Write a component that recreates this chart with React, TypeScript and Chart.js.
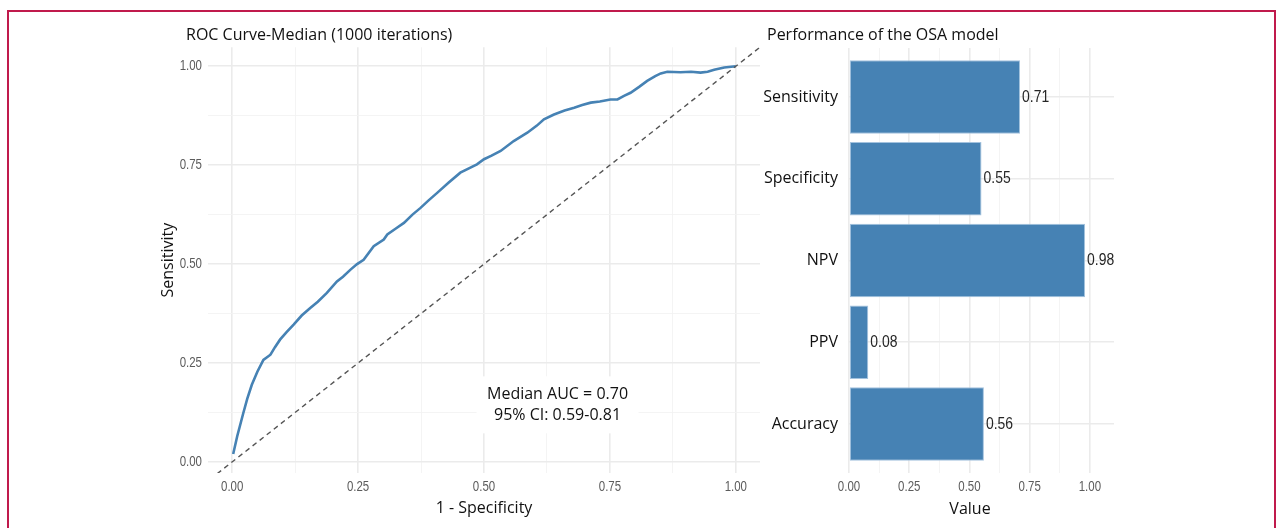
import React, { useEffect, useRef } from "react";
import { Chart, registerables } from "chart.js";

Chart.register(...registerables);

// ---- ROC curve data (median of 1000 iterations) ----
const rocFpr = [
  0.002, 0.01, 0.022, 0.03, 0.039, 0.05, 0.062, 0.076, 0.085, 0.095, 0.108, 0.122,
  0.138, 0.155, 0.17, 0.188, 0.208, 0.22, 0.235, 0.248, 0.261, 0.281, 0.301, 0.308,
  0.325, 0.341, 0.358, 0.374, 0.39, 0.407, 0.43, 0.453, 0.47, 0.486, 0.5, 0.515,
  0.533, 0.559, 0.586, 0.605, 0.619, 0.639, 0.66, 0.679, 0.695, 0.712, 0.73, 0.751,
  0.765, 0.778, 0.791, 0.808, 0.824, 0.84, 0.851, 0.864, 0.89, 0.911, 0.93, 0.944,
  0.957, 0.977, 1.0,
];
const rocTpr = [
  0.02, 0.065, 0.123, 0.16, 0.195, 0.228, 0.258, 0.271, 0.29, 0.309, 0.328, 0.347,
  0.37, 0.389, 0.405, 0.427, 0.456, 0.468, 0.486, 0.5, 0.511, 0.545, 0.562, 0.575,
  0.59, 0.604, 0.625, 0.642, 0.661, 0.68, 0.706, 0.731, 0.742, 0.752, 0.765, 0.774,
  0.786, 0.811, 0.832, 0.85, 0.866, 0.878, 0.888, 0.895, 0.902, 0.908, 0.911, 0.916,
  0.916, 0.925, 0.933, 0.948, 0.963, 0.975, 0.982, 0.986, 0.985, 0.986, 0.984, 0.986,
  0.991, 0.997, 1.0,
];
const diagonal = [-0.1, 1.1];
const rocGridTicks = [0, 0.125, 0.25, 0.375, 0.5, 0.625, 0.75, 0.875, 1];
const aucLines = ["Median AUC = 0.70", "95% CI: 0.59-0.81"];

// ---- Performance metrics ----
const metricLabels = ["Sensitivity", "Specificity", "NPV", "PPV", "Accuracy"];
const metricValues = [0.71, 0.55, 0.98, 0.08, 0.56];
const barGridTicks = [0, 0.125, 0.25, 0.375, 0.5, 0.625, 0.75, 0.875, 1];

const TEXT_FONT = "'Open Sans', 'Noto Sans', sans-serif";
const NARROW_FONT = "'Liberation Sans', Arimo, Arial, sans-serif";
const NARROW_SCALE = 0.82;
const TICK_COLOR = "#5c5c5c";
const TEXT_COLOR = "#111111";
const STEEL = "#4682B4";
const TEXT_SIZE = 16;

const isMajor = (v: number) => Math.abs(v * 4 - Math.round(v * 4)) < 1e-6;

const gridOpts = {
  drawTicks: false,
  color: (ctx: any) => (isMajor(ctx.tick ? ctx.tick.value : 0) ? "#ebebeb" : "#f3f3f3"),
  lineWidth: (ctx: any) => (isMajor(ctx.tick ? ctx.tick.value : 0) ? 1.6 : 0.9),
};

function narrowText(ctx: any, text: string, x: number, y: number, align: string, size: number, color: string) {
  ctx.save();
  ctx.font = `${size}px ${NARROW_FONT}`;
  ctx.fillStyle = color;
  ctx.textAlign = align;
  ctx.textBaseline = "middle";
  ctx.translate(x, y);
  ctx.scale(NARROW_SCALE, 1);
  ctx.fillText(text, 0, 0);
  ctx.restore();
}

// draws the condensed numeric tick labels of linear axes
function drawNumericTicks(chart: any, axisId: string) {
  const s = chart.scales[axisId];
  const area = chart.chartArea;
  s.ticks.forEach((t: any) => {
    if (!isMajor(t.value)) return;
    const p = s.getPixelForValue(t.value);
    const label = t.value.toFixed(2);
    if (s.isHorizontal()) narrowText(chart.ctx, label, p, area.bottom + 14, "center", 14, TICK_COLOR);
    else narrowText(chart.ctx, label, area.left - 6, p, "right", 14, TICK_COLOR);
  });
}

function RocChart() {
  const ref = useRef<HTMLCanvasElement | null>(null);
  useEffect(() => {
    if (!ref.current) return;
    const textPlugin = {
      id: "rocText",
      afterDatasetsDraw(chart: any) {
        const ctx = chart.ctx;
        const xs = chart.scales.x;
        const ys = chart.scales.y;
        drawNumericTicks(chart, "x");
        drawNumericTicks(chart, "y");
        ctx.save();
        ctx.font = `${TEXT_SIZE}px ${TEXT_FONT}`;
        ctx.fillStyle = TEXT_COLOR;
        ctx.textAlign = "left";
        ctx.textBaseline = "middle";
        ctx.fillText("ROC Curve-Median (1000 iterations)", 36, 15);
        // AUC label
        const cx = xs.getPixelForValue(0.646);
        const cy = ys.getPixelForValue(0.143);
        ctx.fillStyle = "#ffffff";
        ctx.fillRect(cx - 81, cy - 29, 162, 57);
        ctx.fillStyle = TEXT_COLOR;
        ctx.textAlign = "center";
        ctx.fillText(aucLines[0], cx, cy - 10.5);
        ctx.fillText(aucLines[1], cx, cy + 10.5);
        ctx.restore();
      },
    };
    const chart = new Chart(ref.current, {
      type: "scatter",
      data: {
        datasets: [
          {
            data: diagonal.map((v) => ({ x: v, y: v })),
            showLine: true,
            borderColor: "#555555",
            borderWidth: 1.4,
            borderDash: [5, 4],
            pointRadius: 0,
            tension: 0,
          },
          {
            data: rocFpr.map((x, i) => ({ x, y: rocTpr[i] })),
            showLine: true,
            borderColor: STEEL,
            borderWidth: 2.6,
            pointRadius: 0,
            tension: 0,
          },
        ],
      },
      options: {
        animation: false,
        responsive: false,
        maintainAspectRatio: false,
        layout: { padding: { top: 27.25, right: 2, left: 0, bottom: 0 } },
        plugins: { legend: { display: false }, tooltip: { enabled: false } },
        scales: {
          x: {
            type: "linear",
            min: -0.048,
            max: 1.048,
            afterBuildTicks: (s: any) => {
              s.ticks = rocGridTicks.map((v) => ({ value: v }));
            },
            afterFit: (s: any) => {
              s.height = 55;
            },
            ticks: { display: false },
            grid: gridOpts as any,
            border: { display: false },
            title: {
              display: true,
              text: "1 - Specificity",
              color: TEXT_COLOR,
              font: { family: TEXT_FONT, size: TEXT_SIZE },
              padding: { top: 0, bottom: 9.5 },
            },
          },
          y: {
            type: "linear",
            min: -0.028,
            max: 1.048,
            afterBuildTicks: (s: any) => {
              s.ticks = rocGridTicks.map((v) => ({ value: v }));
            },
            afterFit: (s: any) => {
              s.width = 58;
            },
            ticks: { display: false },
            grid: gridOpts as any,
            border: { display: false },
            title: {
              display: true,
              text: "Sensitivity",
              color: TEXT_COLOR,
              font: { family: TEXT_FONT, size: TEXT_SIZE },
              padding: { top: 8.5, bottom: 0 },
            },
          },
        },
      },
      plugins: [textPlugin],
    } as any);
    return () => chart.destroy();
  }, []);
  return (
    <canvas
      ref={ref}
      width={612}
      height={508}
      style={{ position: "fixed", left: 150, top: 20, width: 612, height: 508 }}
    />
  );
}

function BarChart() {
  const ref = useRef<HTMLCanvasElement | null>(null);
  useEffect(() => {
    if (!ref.current) return;
    const textPlugin = {
      id: "barText",
      afterDatasetsDraw(chart: any) {
        const ctx = chart.ctx;
        drawNumericTicks(chart, "x");
        ctx.save();
        ctx.font = `${TEXT_SIZE}px ${TEXT_FONT}`;
        ctx.fillStyle = TEXT_COLOR;
        ctx.textAlign = "left";
        ctx.textBaseline = "middle";
        ctx.fillText("Performance of the OSA model", 12, 15);
        ctx.textAlign = "center";
        ctx.fillText("Value", 215, 489);
        ctx.restore();
        const meta = chart.getDatasetMeta(0);
        meta.data.forEach((el: any, i: number) => {
          narrowText(ctx, metricValues[i].toFixed(2), el.x + 2, el.y, "left", 17, "#262626");
        });
      },
    };
    const chart = new Chart(ref.current, {
      type: "bar",
      data: {
        datasets: [
          {
            data: metricValues.map((v, i) => ({ x: v, y: i })),
            backgroundColor: STEEL,
            borderColor: "#a3c2de",
            borderWidth: 1,
            borderSkipped: false,
            barPercentage: 0.9,
            categoryPercentage: 1,
          },
        ],
      },
      options: {
        animation: false,
        responsive: false,
        maintainAspectRatio: false,
        indexAxis: "y",
        layout: { padding: { top: 28, right: 21, left: 0, bottom: 0 } },
        plugins: { legend: { display: false }, tooltip: { enabled: false } },
        scales: {
          x: {
            type: "linear",
            min: 0,
            max: 1.1,
            afterBuildTicks: (s: any) => {
              s.ticks = barGridTicks.map((v) => ({ value: v }));
            },
            afterFit: (s: any) => {
              s.height = 55;
            },
            ticks: { display: false },
            grid: gridOpts as any,
            border: { display: false },
            title: { display: false },
          },
          y: {
            type: "linear",
            min: -0.6,
            max: 4.6,
            reverse: true,
            offset: false,
            afterBuildTicks: (s: any) => {
              s.ticks = metricLabels.map((_, i) => ({ value: i }));
            },
            afterFit: (s: any) => {
              s.width = 94;
            },
            ticks: {
              autoSkip: false,
              padding: 11,
              color: TEXT_COLOR,
              font: { family: TEXT_FONT, size: TEXT_SIZE },
              callback: (v: any) => metricLabels[Number(v)] ?? "",
            },
            grid: { drawTicks: false, offset: false, color: "#ebebeb", lineWidth: 1.6 },
            border: { display: false },
          },
        },
      },
      plugins: [textPlugin],
    } as any);
    return () => chart.destroy();
  }, []);
  return (
    <canvas
      ref={ref}
      width={380}
      height={508}
      style={{ position: "fixed", left: 755, top: 20, width: 380, height: 508 }}
    />
  );
}

export default function App() {
  return (
    <div style={{ position: "fixed", left: 0, top: 0, width: 1276, height: 528, background: "#ffffff", overflow: "hidden" }}>
      <div
        style={{
          position: "fixed",
          left: 7,
          top: 10,
          width: 1269,
          height: 600,
          boxSizing: "border-box",
          border: "2.5px solid #c01a4c",
        }}
      />
      <RocChart />
      <BarChart />
    </div>
  );
}
